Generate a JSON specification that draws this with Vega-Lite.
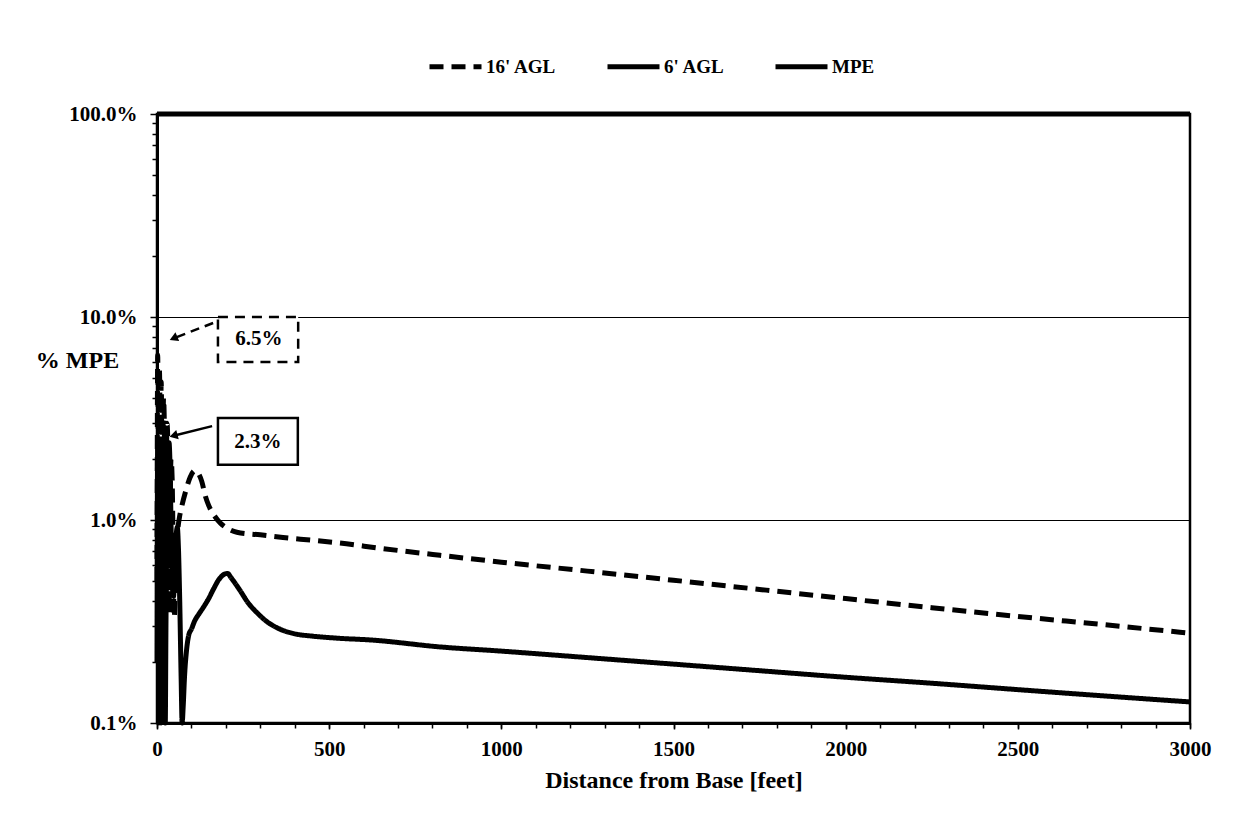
{
  "$schema": "https://vega.github.io/schema/vega-lite/v6.json",
  "width": 1033,
  "height": 609,
  "autosize": {"type": "none"},
  "padding": {"left": 157, "top": 114, "right": 44, "bottom": 96},
  "background": "white",
  "config": {
    "font": "Liberation Serif",
    "view": {"stroke": "black", "strokeWidth": 2.5},
    "axis": {
      "labelFont": "Liberation Serif", "labelFontWeight": "bold", "labelFontSize": 21, "labelColor": "black",
      "titleFont": "Liberation Serif", "titleFontWeight": "bold", "titleColor": "black",
      "domainColor": "black", "domainWidth": 3, "tickColor": "black", "tickWidth": 1.5,
      "labelOverlap": false, "labelFlush": false
    },
    "legend": {
      "labelFont": "Liberation Serif", "labelFontWeight": "bold", "labelFontSize": 19, "labelColor": "black"
    }
  },
  "datasets": {
    "lines": [
      {"series": "MPE", "d": 0, "pct": 100}, {"series": "MPE", "d": 3000, "pct": 100},

      {"series": "16' AGL", "d": 0, "pct": 0.5}, {"series": "16' AGL", "d": 1, "pct": 3.0}, {"series": "16' AGL", "d": 2, "pct": 6.5},
      {"series": "16' AGL", "d": 3, "pct": 4.0}, {"series": "16' AGL", "d": 4, "pct": 1.2}, {"series": "16' AGL", "d": 5, "pct": 0.4},
      {"series": "16' AGL", "d": 6, "pct": 2.5}, {"series": "16' AGL", "d": 7, "pct": 5.5}, {"series": "16' AGL", "d": 8, "pct": 4.5},
      {"series": "16' AGL", "d": 9, "pct": 1.5}, {"series": "16' AGL", "d": 10, "pct": 0.4}, {"series": "16' AGL", "d": 11, "pct": 2.0},
      {"series": "16' AGL", "d": 12, "pct": 4.8}, {"series": "16' AGL", "d": 13, "pct": 4.0}, {"series": "16' AGL", "d": 14, "pct": 1.2},
      {"series": "16' AGL", "d": 15, "pct": 0.35}, {"series": "16' AGL", "d": 17, "pct": 2.0}, {"series": "16' AGL", "d": 19, "pct": 4.0},
      {"series": "16' AGL", "d": 21, "pct": 3.2}, {"series": "16' AGL", "d": 23, "pct": 1.0}, {"series": "16' AGL", "d": 25, "pct": 0.35},
      {"series": "16' AGL", "d": 27, "pct": 1.5}, {"series": "16' AGL", "d": 29, "pct": 3.0}, {"series": "16' AGL", "d": 31, "pct": 2.6},
      {"series": "16' AGL", "d": 33, "pct": 1.0}, {"series": "16' AGL", "d": 35, "pct": 0.35}, {"series": "16' AGL", "d": 38, "pct": 1.2},
      {"series": "16' AGL", "d": 41, "pct": 2.0}, {"series": "16' AGL", "d": 44, "pct": 1.6}, {"series": "16' AGL", "d": 47, "pct": 0.7},
      {"series": "16' AGL", "d": 50, "pct": 0.33}, {"series": "16' AGL", "d": 53, "pct": 0.45}, {"series": "16' AGL", "d": 56, "pct": 0.75},
      {"series": "16' AGL", "d": 61, "pct": 0.92}, {"series": "16' AGL", "d": 66, "pct": 1.05}, {"series": "16' AGL", "d": 72, "pct": 1.17},
      {"series": "16' AGL", "d": 84, "pct": 1.4}, {"series": "16' AGL", "d": 96, "pct": 1.62}, {"series": "16' AGL", "d": 110, "pct": 1.75},
      {"series": "16' AGL", "d": 120, "pct": 1.7}, {"series": "16' AGL", "d": 130, "pct": 1.55}, {"series": "16' AGL", "d": 140, "pct": 1.32},
      {"series": "16' AGL", "d": 150, "pct": 1.18}, {"series": "16' AGL", "d": 165, "pct": 1.06}, {"series": "16' AGL", "d": 183, "pct": 0.97},
      {"series": "16' AGL", "d": 200, "pct": 0.92}, {"series": "16' AGL", "d": 232, "pct": 0.87}, {"series": "16' AGL", "d": 300, "pct": 0.845},
      {"series": "16' AGL", "d": 366, "pct": 0.82}, {"series": "16' AGL", "d": 450, "pct": 0.795}, {"series": "16' AGL", "d": 531, "pct": 0.77},
      {"series": "16' AGL", "d": 650, "pct": 0.725}, {"series": "16' AGL", "d": 822, "pct": 0.67}, {"series": "16' AGL", "d": 1000, "pct": 0.62},
      {"series": "16' AGL", "d": 1250, "pct": 0.56}, {"series": "16' AGL", "d": 1500, "pct": 0.505}, {"series": "16' AGL", "d": 1750, "pct": 0.455},
      {"series": "16' AGL", "d": 2000, "pct": 0.41}, {"series": "16' AGL", "d": 2250, "pct": 0.37}, {"series": "16' AGL", "d": 2500, "pct": 0.335},
      {"series": "16' AGL", "d": 2750, "pct": 0.305}, {"series": "16' AGL", "d": 3000, "pct": 0.277},

      {"series": "6' AGL", "d": 0, "pct": 0.2}, {"series": "6' AGL", "d": 1, "pct": 1.2}, {"series": "6' AGL", "d": 2, "pct": 2.4},
      {"series": "6' AGL", "d": 3, "pct": 1.6}, {"series": "6' AGL", "d": 4, "pct": 0.4}, {"series": "6' AGL", "d": 5, "pct": 0.1},
      {"series": "6' AGL", "d": 6, "pct": 0.4}, {"series": "6' AGL", "d": 7, "pct": 1.6}, {"series": "6' AGL", "d": 8, "pct": 2.5},
      {"series": "6' AGL", "d": 9, "pct": 2.0}, {"series": "6' AGL", "d": 10, "pct": 0.7}, {"series": "6' AGL", "d": 11, "pct": 0.2},
      {"series": "6' AGL", "d": 12, "pct": 0.1}, {"series": "6' AGL", "d": 13, "pct": 0.25}, {"series": "6' AGL", "d": 15, "pct": 1.2},
      {"series": "6' AGL", "d": 17, "pct": 2.3}, {"series": "6' AGL", "d": 19, "pct": 2.1}, {"series": "6' AGL", "d": 21, "pct": 0.9},
      {"series": "6' AGL", "d": 23, "pct": 0.25}, {"series": "6' AGL", "d": 24, "pct": 0.1}, {"series": "6' AGL", "d": 26, "pct": 0.3},
      {"series": "6' AGL", "d": 29, "pct": 1.2}, {"series": "6' AGL", "d": 32, "pct": 2.2}, {"series": "6' AGL", "d": 35, "pct": 2.4},
      {"series": "6' AGL", "d": 38, "pct": 1.8}, {"series": "6' AGL", "d": 41, "pct": 0.9}, {"series": "6' AGL", "d": 44, "pct": 0.5},
      {"series": "6' AGL", "d": 48, "pct": 0.42}, {"series": "6' AGL", "d": 52, "pct": 0.6}, {"series": "6' AGL", "d": 56, "pct": 0.85},
      {"series": "6' AGL", "d": 59, "pct": 0.92}, {"series": "6' AGL", "d": 62, "pct": 0.75}, {"series": "6' AGL", "d": 66, "pct": 0.4},
      {"series": "6' AGL", "d": 70, "pct": 0.17}, {"series": "6' AGL", "d": 73, "pct": 0.1}, {"series": "6' AGL", "d": 76, "pct": 0.12},
      {"series": "6' AGL", "d": 80, "pct": 0.17}, {"series": "6' AGL", "d": 86, "pct": 0.23}, {"series": "6' AGL", "d": 92, "pct": 0.27},
      {"series": "6' AGL", "d": 100, "pct": 0.29}, {"series": "6' AGL", "d": 110, "pct": 0.32}, {"series": "6' AGL", "d": 122, "pct": 0.345},
      {"series": "6' AGL", "d": 134, "pct": 0.37}, {"series": "6' AGL", "d": 150, "pct": 0.41}, {"series": "6' AGL", "d": 165, "pct": 0.46},
      {"series": "6' AGL", "d": 180, "pct": 0.51}, {"series": "6' AGL", "d": 195, "pct": 0.54}, {"series": "6' AGL", "d": 205, "pct": 0.545},
      {"series": "6' AGL", "d": 215, "pct": 0.52}, {"series": "6' AGL", "d": 228, "pct": 0.485}, {"series": "6' AGL", "d": 241, "pct": 0.45},
      {"series": "6' AGL", "d": 265, "pct": 0.39}, {"series": "6' AGL", "d": 290, "pct": 0.35}, {"series": "6' AGL", "d": 320, "pct": 0.315},
      {"series": "6' AGL", "d": 357, "pct": 0.29}, {"series": "6' AGL", "d": 400, "pct": 0.275}, {"series": "6' AGL", "d": 450, "pct": 0.268},
      {"series": "6' AGL", "d": 520, "pct": 0.262}, {"series": "6' AGL", "d": 627, "pct": 0.256}, {"series": "6' AGL", "d": 822, "pct": 0.237},
      {"series": "6' AGL", "d": 1000, "pct": 0.226}, {"series": "6' AGL", "d": 1250, "pct": 0.21}, {"series": "6' AGL", "d": 1500, "pct": 0.195},
      {"series": "6' AGL", "d": 1750, "pct": 0.181}, {"series": "6' AGL", "d": 2000, "pct": 0.168}, {"series": "6' AGL", "d": 2250, "pct": 0.157},
      {"series": "6' AGL", "d": 2500, "pct": 0.146}, {"series": "6' AGL", "d": 2750, "pct": 0.136}, {"series": "6' AGL", "d": 3000, "pct": 0.127}
    ],
    "minor": [
      {"d": 100}, {"d": 200}, {"d": 300}, {"d": 400}, {"d": 600}, {"d": 700}, {"d": 800}, {"d": 900},
      {"d": 1100}, {"d": 1200}, {"d": 1300}, {"d": 1400}, {"d": 1600}, {"d": 1700}, {"d": 1800}, {"d": 1900},
      {"d": 2100}, {"d": 2200}, {"d": 2300}, {"d": 2400}, {"d": 2600}, {"d": 2700}, {"d": 2800}, {"d": 2900}
    ],
    "boxes": [
      {"label": "6.5%", "style": "dashed", "d": 177, "d2": 410, "pct": 6.0, "pct2": 10.0, "td": 296, "tpct": 7.8},
      {"label": "2.3%", "style": "solid", "d": 177, "d2": 409, "pct": 1.87, "pct2": 3.18, "td": 293, "tpct": 2.42}
    ],
    "arrows": [
      {"style": "dashed", "d": 163, "pct": 9.34, "d2": 48, "pct2": 7.85},
      {"style": "solid", "d": 160, "pct": 2.9, "d2": 48, "pct2": 2.6}
    ]
  },
  "resolve": {"axis": {"x": "independent"}},
  "layer": [
    {
      "data": {"name": "minor"},
      "mark": {"type": "rule", "opacity": 0},
      "encoding": {
        "x": {
          "field": "d", "type": "quantitative",
          "scale": {"domain": [0, 3000], "nice": false, "zero": false},
          "axis": {
            "orient": "bottom", "title": null, "labels": false, "domain": false, "grid": false,
            "values": [0,100,200,300,400,500,600,700,800,900,1000,1100,1200,1300,1400,1500,1600,1700,1800,1900,2000,2100,2200,2300,2400,2500,2600,2700,2800,2900,3000],
            "tickSize": 5
          }
        }
      }
    },
    {
      "data": {"name": "lines"},
      "mark": {"type": "line", "interpolate": "monotone", "color": "black", "strokeWidth": 5},
      "encoding": {
        "x": {
          "field": "d", "type": "quantitative",
          "scale": {"domain": [0, 3000], "nice": false, "zero": false},
          "axis": {
            "orient": "bottom",
            "title": "Distance from Base [feet]", "titleFontSize": 24, "titleY": 57, "titleBaseline": "middle",
            "values": [0, 500, 1000, 1500, 2000, 2500, 3000],
            "format": "d",
            "tickSize": 6, "labelPadding": 9, "grid": false, "labelFlush": false, "labelOverlap": false
          }
        },
        "y": {
          "field": "pct", "type": "quantitative",
          "scale": {"type": "log", "domain": [0.1, 100], "nice": false},
          "axis": {
            "title": "% MPE", "titleAngle": 0, "titleFontSize": 24, "titleX": -80, "titleY": 246,
            "titleAlign": "center", "titleBaseline": "middle",
            "values": [0.1,0.2,0.3,0.4,0.5,0.6,0.7,0.8,0.9,1,2,3,4,5,6,7,8,9,10,20,30,40,50,60,70,80,90,100],
            "labelExpr": "indexof([0.1,1,10,100], datum.value) >= 0 ? format(datum.value, '.1f') + '%' : ''",
            "tickSize": {"condition": {"test": "indexof([0.1,1,10,100], datum.value) >= 0", "value": 7}, "value": 5},
            "labelPadding": 13,
            "grid": true, "gridColor": "black", "gridWidth": 1,
            "gridOpacity": {"condition": {"test": "datum.value == 1 || datum.value == 10", "value": 1}, "value": 0},
            "labelOverlap": false, "labelFlush": false
          }
        },
        "strokeDash": {
          "field": "series", "type": "nominal",
          "scale": {"domain": ["16' AGL", "6' AGL", "MPE"], "range": [[14, 8], [1, 0], [1, 0]]},
          "legend": {
            "title": null, "orient": "none", "direction": "horizontal", "legendX": 270, "legendY": -76,
            "symbolType": "stroke", "symbolSize": 2704, "symbolStrokeWidth": 5, "symbolStrokeColor": "black",
            "labelOffset": 2, "columnPadding": 40, "labelLimit": 300
          }
        }
      }
    },
    {
      "data": {"name": "boxes"},
      "transform": [{"filter": "datum.style == 'dashed'"}],
      "mark": {"type": "rect", "fill": "white", "stroke": "black", "strokeWidth": 2.5, "strokeDash": [10, 7]},
      "encoding": {
        "x": {"field": "d", "type": "quantitative", "axis": null}, "x2": {"field": "d2"},
        "y": {"field": "pct", "type": "quantitative"}, "y2": {"field": "pct2"}
      }
    },
    {
      "data": {"name": "boxes"},
      "transform": [{"filter": "datum.style == 'solid'"}],
      "mark": {"type": "rect", "fill": "white", "stroke": "black", "strokeWidth": 2.5},
      "encoding": {
        "x": {"field": "d", "type": "quantitative", "axis": null}, "x2": {"field": "d2"},
        "y": {"field": "pct", "type": "quantitative"}, "y2": {"field": "pct2"}
      }
    },
    {
      "data": {"name": "boxes"},
      "mark": {"type": "text", "font": "Liberation Serif", "fontWeight": "bold", "fontSize": 21, "color": "black", "align": "center", "baseline": "middle"},
      "encoding": {
        "x": {"field": "td", "type": "quantitative", "axis": null},
        "y": {"field": "tpct", "type": "quantitative"},
        "text": {"field": "label"}
      }
    },
    {
      "data": {"name": "arrows"},
      "transform": [{"filter": "datum.style == 'dashed'"}],
      "mark": {"type": "rule", "color": "black", "strokeWidth": 2.5, "strokeDash": [9, 6]},
      "encoding": {
        "x": {"field": "d", "type": "quantitative", "axis": null}, "x2": {"field": "d2"},
        "y": {"field": "pct", "type": "quantitative"}, "y2": {"field": "pct2"}
      }
    },
    {
      "data": {"name": "arrows"},
      "transform": [{"filter": "datum.style == 'solid'"}],
      "mark": {"type": "rule", "color": "black", "strokeWidth": 2.5},
      "encoding": {
        "x": {"field": "d", "type": "quantitative", "axis": null}, "x2": {"field": "d2"},
        "y": {"field": "pct", "type": "quantitative"}, "y2": {"field": "pct2"}
      }
    },
    {
      "data": {"name": "arrows"},
      "transform": [{"filter": "datum.style == 'dashed'"}],
      "mark": {"type": "point", "shape": "triangle-left", "filled": true, "color": "black", "size": 90, "angle": 337, "opacity": 1},
      "encoding": {
        "x": {"field": "d2", "type": "quantitative", "axis": null},
        "y": {"field": "pct2", "type": "quantitative"}
      }
    },
    {
      "data": {"name": "arrows"},
      "transform": [{"filter": "datum.style == 'solid'"}],
      "mark": {"type": "point", "shape": "triangle-left", "filled": true, "color": "black", "size": 90, "angle": 345, "opacity": 1},
      "encoding": {
        "x": {"field": "d2", "type": "quantitative", "axis": null},
        "y": {"field": "pct2", "type": "quantitative"}
      }
    }
  ]
}
